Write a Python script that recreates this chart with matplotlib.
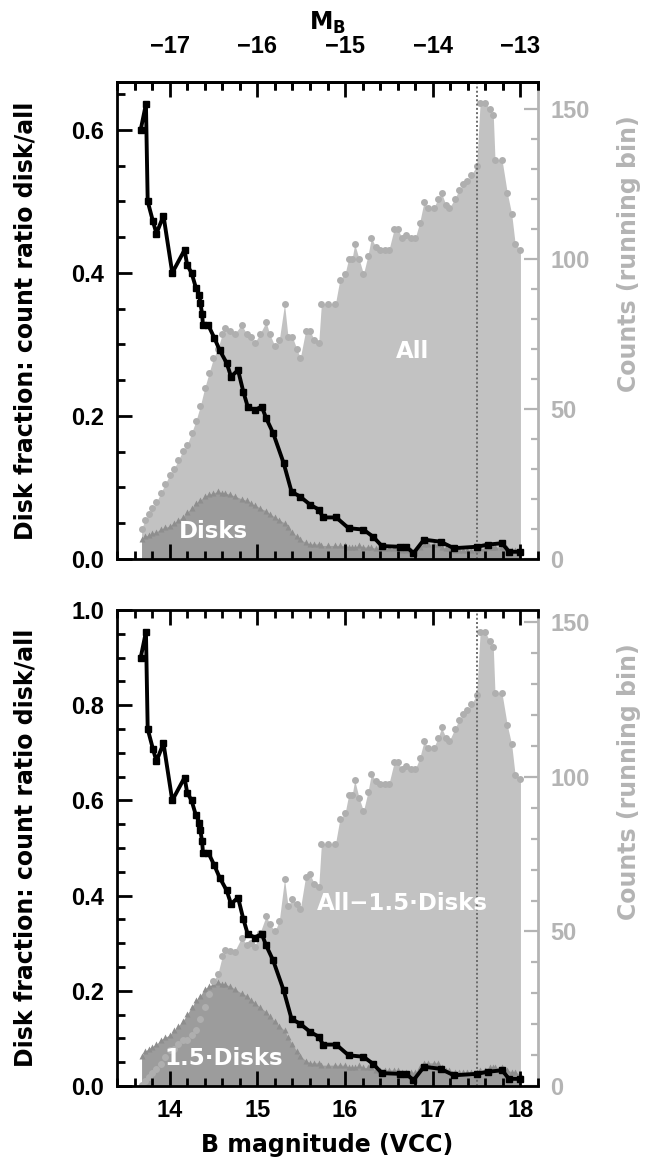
import matplotlib
matplotlib.use("Agg")
import matplotlib.pyplot as plt
from matplotlib.ticker import MultipleLocator

# ---------------- data ----------------
b_counts = [13.68, 13.72, 13.76, 13.80, 13.85, 13.90, 13.95, 14.00, 14.05, 14.10,
            14.15, 14.20, 14.25, 14.30, 14.35, 14.40, 14.45, 14.50, 14.55, 14.60,
            14.63, 14.69, 14.74, 14.82, 14.88, 14.93, 14.97, 15.03, 15.10, 15.14,
            15.20, 15.25, 15.31, 15.35, 15.40, 15.45, 15.49, 15.55, 15.60, 15.65,
            15.70, 15.73, 15.81, 15.89, 15.94, 16.00, 16.04, 16.08, 16.11, 16.16,
            16.21, 16.26, 16.30, 16.35, 16.40, 16.45, 16.50, 16.56, 16.60, 16.65,
            16.70, 16.75, 16.80, 16.85, 16.90, 16.95, 17.01, 17.06, 17.10, 17.15,
            17.19, 17.25, 17.30, 17.35, 17.39, 17.44, 17.50, 17.54, 17.60, 17.65,
            17.69, 17.71, 17.79, 17.85, 17.90, 17.94, 18.00]
all_counts = [10, 13, 15, 17, 19, 22, 25, 28, 30, 33,
              36, 38, 42, 46, 51, 57, 62, 67, 70, 75,
              77, 76, 75, 78, 75, 74, 72, 75, 79, 75,
              71, 73, 85, 74, 74, 70, 67, 76, 76, 73,
              72, 85, 85, 85, 93, 95, 100, 100, 105, 100,
              95, 101, 107, 104, 103, 103, 103, 110, 110, 107,
              108, 107, 107, 112, 119, 117, 117, 120, 122, 118,
              117, 120, 123, 125, 126, 128, 131, 152, 152, 150,
              148, 133, 133, 122, 115, 105, 103]
disk_counts = [6.5, 7.5, 8, 8.5, 9, 10, 10.5, 11, 12, 13,
               14, 15.5, 17, 18.5, 19.5, 21, 21.5, 22, 22.5, 22,
               22, 21.5, 21, 20, 19.5, 18.5, 18, 17, 16, 15,
               14, 13, 12, 10.5, 9, 7.5, 6.5, 5.5, 5, 5,
               5, 4.5, 4.5, 4.5, 4.5, 4.5, 4, 4, 4, 4.5,
               4, 4, 4, 3.5, 3.5, 3.5, 3.5, 3.5, 3.5, 3,
               3, 3, 3, 4, 5, 5, 5, 5, 4, 3.5,
               3.5, 3, 3, 3, 3, 3, 3, 3.5, 3.5, 4,
               4, 4, 4, 3.5, 3, 3, 2.5]

b_ratio = [13.67, 13.73, 13.75, 13.81, 13.85, 13.93, 14.03, 14.17, 14.20, 14.25,
           14.30, 14.34, 14.35, 14.37, 14.38, 14.44, 14.51, 14.57, 14.65, 14.70,
           14.78, 14.84, 14.89, 14.97, 15.05, 15.10, 15.18, 15.30, 15.39, 15.49,
           15.60, 15.70, 15.75, 15.90, 16.04, 16.21, 16.32, 16.42, 16.63, 16.70,
           16.78, 16.90, 17.09, 17.24, 17.50, 17.63, 17.79, 17.87, 18.00]
ratio = [0.600, 0.636, 0.500, 0.472, 0.455, 0.480, 0.400, 0.432, 0.411, 0.400,
         0.379, 0.369, 0.358, 0.343, 0.327, 0.327, 0.309, 0.292, 0.274, 0.255,
         0.264, 0.234, 0.213, 0.208, 0.213, 0.197, 0.176, 0.134, 0.094, 0.087,
         0.076, 0.069, 0.058, 0.058, 0.043, 0.041, 0.031, 0.018, 0.017, 0.017,
         0.008, 0.027, 0.024, 0.015, 0.017, 0.020, 0.022, 0.010, 0.010]

disk_weight = 1.5
b_limit = 17.5

# ---------------- style ----------------
plt.rcParams['font.family'] = ['Liberation Sans', 'DejaVu Sans']
plt.rcParams['font.weight'] = 'bold'
plt.rcParams['axes.linewidth'] = 2.0

LIGHT = '#c2c2c2'
LIGHT_DOT = '#afafaf'
DARK = '#9c9c9c'
DARK_MK = '#8e8e8e'
AXGRAY = '#b4b4b4'
FS = 17
LABFONT = dict(family=['DejaVu Sans'], fontweight='bold', fontsize=17)
INFONT = dict(family=['DejaVu Sans'], fontweight='bold', fontsize=16.5)

fig = plt.figure(figsize=(6.5, 11.62), dpi=100)
ax_top = fig.add_axes([0.18, 0.519, 0.6477, 0.4105])
ax_bot = fig.add_axes([0.18, 0.0654, 0.6477, 0.4096])


def panel(ax, counts_light, counts_dark, rat, ylim_l, ylim_r, lab_light, pos_light,
          lab_dark, pos_dark, show_xlabels):
    ax2 = ax.twinx()
    ax.set_zorder(ax2.get_zorder() + 1)
    ax.patch.set_visible(False)

    ax2.fill_between(b_counts, counts_light, 0, color=LIGHT, lw=0, zorder=1)
    ax2.fill_between(b_counts, counts_dark, 0, color=DARK, lw=0, zorder=2)
    ax2.plot(b_counts, counts_dark, ls='none', marker='^', ms=5, color=DARK_MK,
             mec='none', zorder=3)
    ax2.plot(b_counts, counts_light, ls='none', marker='o', ms=5, color=LIGHT_DOT,
             mec='none', zorder=4)
    ax2.axvline(b_limit, color='#6a6a6a', ls=(0, (1, 1.2)), lw=1.4, zorder=5)
    ax2.text(pos_light[0], pos_light[1], lab_light, color='white',
             ha='center', va='center', zorder=6, **INFONT)
    ax2.text(pos_dark[0], pos_dark[1], lab_dark, color='white',
             ha='center', va='center', zorder=6, **INFONT)
    ax2.set_ylim(*ylim_r)
    ax2.yaxis.set_major_locator(MultipleLocator(50))
    ax2.yaxis.set_minor_locator(MultipleLocator(10))
    ax2.tick_params(axis='y', which='both', direction='in', colors=AXGRAY,
                    labelsize=FS, width=1.6, pad=9)
    ax2.tick_params(axis='y', which='major', length=10)
    ax2.tick_params(axis='y', which='minor', length=5)
    for s in ['left', 'top', 'bottom']:
        ax2.spines[s].set_visible(False)
    ax2.spines['right'].set_color(AXGRAY)
    ax2.set_ylabel('Counts (running bin)', color=AXGRAY, **LABFONT)
    ax2.yaxis.set_label_coords(1.188, 0.64)

    ax.plot(b_ratio, rat, color='black', lw=2.8, marker='s', ms=5, zorder=10)
    ax.set_xlim(13.4, 18.2)
    ax.set_ylim(*ylim_l)
    ax.xaxis.set_major_locator(MultipleLocator(1))
    ax.xaxis.set_minor_locator(MultipleLocator(0.2))
    ax.yaxis.set_major_locator(MultipleLocator(0.2))
    ax.yaxis.set_minor_locator(MultipleLocator(0.05))
    ax.tick_params(which='both', direction='in', width=2.0, labelsize=FS,
                   right=False, top=True, pad=9)
    ax.tick_params(which='major', length=11)
    ax.tick_params(which='minor', length=5.5)
    ax.spines['right'].set_visible(False)
    if not show_xlabels:
        ax.tick_params(labelbottom=False)
    ax.set_ylabel('Disk fraction: count ratio disk/all', **LABFONT)
    ax.yaxis.set_label_coords(-0.19, 0.5)
    return ax2


panel(ax_top, all_counts, disk_counts, ratio, (0, 0.667), (0, 159),
      'All', (16.77, 69), 'Disks', (14.5, 9), False)

light_bot = [a - disk_weight * d for a, d in zip(all_counts, disk_counts)]
dark_bot = [disk_weight * d for d in disk_counts]
ratio_bot = [disk_weight * r for r in ratio]
panel(ax_bot, light_bot, dark_bot, ratio_bot, (0, 1.0), (0, 154),
      'All\u22121.5\u00b7Disks', (16.65, 59), '1.5\u00b7Disks', (14.62, 9), True)
ax_bot.set_xlabel('B magnitude (VCC)', labelpad=8, **LABFONT)

# top absolute-magnitude axis
ax_top.tick_params(top=False)
sec = ax_top.secondary_xaxis('top', functions=(lambda b: b - 31, lambda m: m + 31))
sec.xaxis.set_major_locator(MultipleLocator(1))
sec.xaxis.set_minor_locator(MultipleLocator(0.2))
sec.tick_params(which='both', direction='in', width=2.0, labelsize=FS, pad=17)
sec.tick_params(which='major', length=11)
sec.tick_params(which='minor', length=5.5)
sec.set_xlabel('M$_\\mathregular{B}$', labelpad=4, **LABFONT)
sec.xaxis.set_major_formatter(plt.FuncFormatter(lambda v, p: '\u2212%d' % abs(round(v))))

fig.savefig('out.png', dpi=100)
